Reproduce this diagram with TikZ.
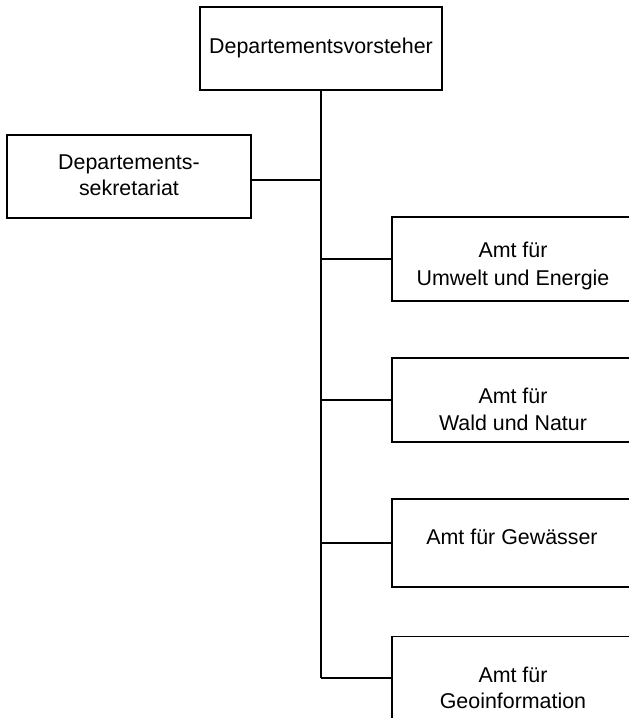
\documentclass[tikz,border=0pt]{standalone}
\usepackage{fontspec}
\setmainfont{Liberation Sans}
\begin{document}
\begin{tikzpicture}[x=1pt,y=-1pt, line width=1.3pt,
  box/.style={draw, rectangle, inner sep=0pt, minimum width=242pt},
  lbl/.style={anchor=base, inner sep=0pt, font=\fontsize{21.4}{26}\selectfont}]
\useasboundingbox (0,0) rectangle (629,718);
\clip (0,0) rectangle (629,718);
% boxes
\node[box, minimum height=83pt] (top) at (321,48.5) {};
\node[box, minimum width=244pt, minimum height=83pt] (sec) at (129,176.5) {};
\node[box, minimum height=84pt] (umw) at (513,259) {};
\node[box, minimum height=84pt] (wald) at (513,400) {};
\node[box, minimum height=88pt] (gew) at (513,543) {};
\node[box, minimum height=83pt] (geo) at (513,678) {};
% labels
\node[lbl] (ltop) at (321,53) {Departementsvorsteher};
\node[lbl] (lsec1) at (129,169) {Departements-};
\node[lbl] (lsec2) at (129,195) {sekretariat};
\node[lbl] (lumw1) at (513,257) {Amt für};
\node[lbl] (lumw2) at (513,285) {Umwelt und Energie};
\node[lbl] (lwald1) at (513,403) {Amt für};
\node[lbl] (lwald2) at (513,430) {Wald und Natur};
\node[lbl] (lgew) at (512,544) {Amt für Gewässer};
\node[lbl] (lgeo1) at (513,682) {Amt für};
\node[lbl] (lgeo2) at (513,708) {Geoinformation};
% connectors
\coordinate (spineend) at (321,678);
\draw (top.south) -- (spineend);
\draw ([yshift=-3.5pt]sec.east) -- ([yshift=-3.5pt]sec.east -| top.south);
\draw (umw.west) -- (umw.west -| top.south);
\draw (wald.west) -- (wald.west -| top.south);
\draw (gew.west) -- (gew.west -| top.south);
\draw (geo.west) -- (spineend);
\end{tikzpicture}
\end{document}
